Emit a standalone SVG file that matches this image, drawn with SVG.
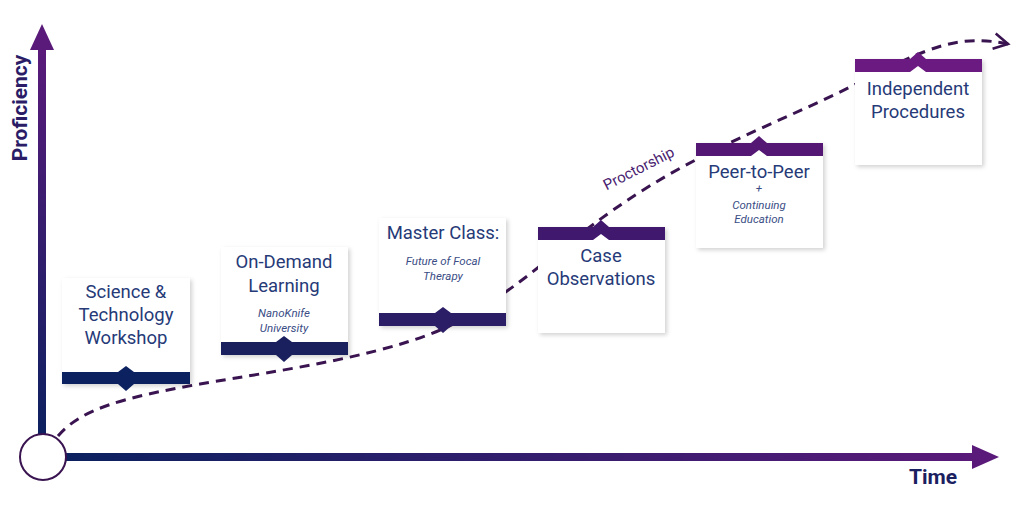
<svg xmlns="http://www.w3.org/2000/svg" width="1024" height="507" viewBox="0 0 1024 507">
<defs>
<linearGradient id="gy" x1="0" y1="1" x2="0" y2="0"><stop offset="0" stop-color="#0c2160"/><stop offset="1" stop-color="#5a1a7a"/></linearGradient>
<linearGradient id="gx" x1="0" y1="0" x2="1" y2="0"><stop offset="0" stop-color="#0c2160"/><stop offset="1" stop-color="#5a1a7a"/></linearGradient>
<linearGradient id="gt" x1="0" y1="0" x2="0" y2="1"><stop offset="0" stop-color="#2a1c66"/><stop offset="1" stop-color="#0c2160"/></linearGradient>
<filter id="sh" x="-10%" y="-10%" width="125%" height="125%"><feDropShadow dx="2" dy="2" stdDeviation="2" flood-color="#000" flood-opacity="0.18"/></filter>
<marker id="oa" viewBox="0 0 14 14" refX="12" refY="7" markerWidth="6" markerHeight="6" orient="auto" markerUnits="strokeWidth"><path d="M1,1 L12,7 L1,13" fill="none" stroke="#3a1450" stroke-width="2"/></marker>
</defs>
<style>
.box{fill:#fff;filter:url(#sh)}
.t{font-family:Roboto,"Liberation Sans",sans-serif;fill:#263a78;text-anchor:middle;font-size:18.5px}
.s{font-family:Roboto,"Liberation Sans",sans-serif;fill:#3a4d85;text-anchor:middle;font-size:11.5px;font-style:italic}
.ax{font-family:Roboto,"Liberation Sans",sans-serif;font-weight:bold;font-size:21px}
</style>
<rect width="1024" height="507" fill="#fff"/>
<g id="axes">
<rect x="38" y="48" width="8" height="392" fill="url(#gy)"/>
<polygon points="42,24 30,50 54,50" fill="#5a1a7a"/>
<rect x="66" y="453" width="915" height="8" fill="url(#gx)"/>
<polygon points="999,457 972,445 972,469" fill="#5a1a7a"/>
<circle cx="43" cy="457" r="23" fill="#fff" stroke="#3a1450" stroke-width="2"/>
<text class="ax" transform="translate(27,108) rotate(-90)" text-anchor="middle" fill="#2a1c66">Proficiency</text>
<text class="ax" x="933" y="484" text-anchor="middle" fill="#1a2060">Time</text>
</g>
<g id="connectors">
<path d="M58,436 C80,410 120,398 200,384 S400,355 465,318 S565,240 640,192 S790,118 860,82 S960,34 1008,44" fill="none" stroke="#3a1450" stroke-width="3" stroke-dasharray="10,7" marker-end="url(#oa)"/>
<text transform="translate(641,173) rotate(-27)" text-anchor="middle" font-family="Roboto,'Liberation Sans',sans-serif" font-size="15" fill="#4a2270">Proctorship</text>
</g>
<g id="n1">
<rect class="box" x="62" y="278" width="128" height="106"/>
<path d="M62,372 H118 L126,366 L134,372 H190 V384 H134 L126,391 L118,384 H62 Z" fill="#0c2160"/>
<text class="t" x="126" y="298">Science &amp;</text>
<text class="t" x="126" y="321">Technology</text>
<text class="t" x="126" y="344">Workshop</text>
</g>
<g id="n2">
<rect class="box" x="221" y="247" width="127" height="108"/>
<path d="M221,342 H276 L284,336 L292,342 H348 V355 H292 L284,362 L276,355 H221 Z" fill="#1a1f5e"/>
<text class="t" x="284" y="268">On-Demand</text>
<text class="t" x="284" y="292">Learning</text>
<text class="s" x="284" y="317">NanoKnife</text>
<text class="s" x="284" y="332">University</text>
</g>
<g id="n3">
<rect class="box" x="379" y="218" width="127" height="108"/>
<path d="M379,313 H435 L443,307 L451,313 H506 V326 H451 L443,333 L435,326 H379 Z" fill="#2b1d66"/>
<text class="t" x="443" y="239">Master Class:</text>
<text class="s" x="443" y="265">Future of Focal</text>
<text class="s" x="443" y="280">Therapy</text>
</g>
<g id="n4">
<rect class="box" x="538" y="227" width="127" height="106"/>
<path d="M538,227 H593 L601,220 L609,227 H665 V240 H609 L601,234 L593,240 H538 Z" fill="#40196f"/>
<text class="t" x="601" y="262">Case</text>
<text class="t" x="601" y="285">Observations</text>
</g>
<g id="n5">
<rect class="box" x="696" y="143" width="127" height="105"/>
<path d="M696,143 H751 L759,136 L767,143 H823 V156 H767 L759,150 L751,156 H696 Z" fill="#541874"/>
<text class="t" x="759" y="178">Peer-to-Peer</text>
<text class="s" x="759" y="192" font-size="10">+</text>
<text class="s" x="759" y="209">Continuing</text>
<text class="s" x="759" y="223">Education</text>
</g>
<g id="n6">
<rect class="box" x="855" y="59" width="127" height="106"/>
<path d="M855,59 H910 L918,52 L926,59 H982 V72 H926 L918,66 L910,72 H855 Z" fill="#6a1a80"/>
<text class="t" x="918" y="95">Independent</text>
<text class="t" x="918" y="118">Procedures</text>
</g>
</svg>
